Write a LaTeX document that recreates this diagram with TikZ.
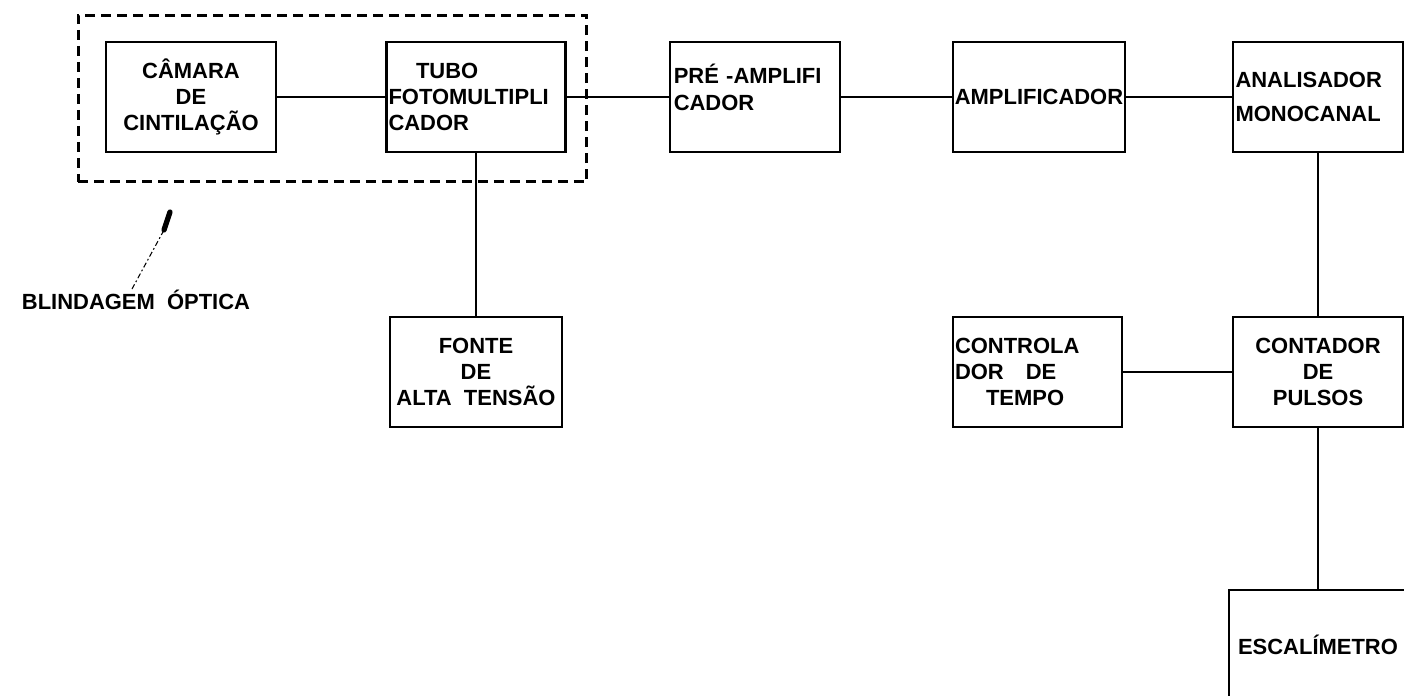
\documentclass[tikz,border=0pt]{standalone}
\usepackage{fontspec}
\setmainfont{Liberation Sans}
\usepackage{tikz}
\usetikzlibrary{positioning, calc}
\tikzset{
  bloco/.style={rectangle, draw=black, line width=1.6pt, minimum width=3.4cm, minimum height=2.2cm, inner sep=1pt, font=\fontsize{12.5}{15}\selectfont\bfseries},
  blind/.style={rectangle, draw=black, line width=1.7pt, dash pattern=on 0.2cm off 0.12cm},
  conexao/.style={line width=1.1pt},
  guia/.style={line width=0.6pt, dash pattern=on 3pt off 1.5pt on 1pt off 1.5pt}
}

\begin{document}
\begin{tikzpicture}[x=0.02cm, y=-0.02cm]

    \useasboundingbox (0,0) rectangle (1404,696);

    % 1. Blindagem optica (caixa tracejada)
    \node[blind, minimum width=10.18cm, minimum height=3.34cm] (blind) at (332.5,98.5) {};

    % 2. Blocos da linha superior
    \node[bloco, align=center] (camara) at (191,97) {CÂMARA\\DE\\CINTILAÇÃO};
    \node[bloco, minimum width=3.58cm, text width=3.5cm, align=left] (tubo) at (476,97) {\hspace*{0.55cm}TUBO\\FOTOMULTIPLI\\CADOR};
    \node[bloco, text width=3.25cm, align=left] (pre) at (755,97) {PRÉ -AMPLIFI\\CADOR\\[-0.14cm]\mbox{}};
    \node[bloco, minimum width=3.44cm] (amp) at (1039,97) {AMPLIFICADOR};
    \node[bloco, text width=3.3cm, align=left] (anal) at (1318,97) {ANALISADOR\\[0.15cm]MONOCANAL};

    % 3. Blocos da linha do meio
    \node[bloco, minimum width=3.44cm, align=center] (fonte) at (476,372) {FONTE\\DE\\ALTA\ \ TENSÃO};
    \node[bloco, minimum width=3.38cm, text width=3.3cm, align=left] (contr) at (1037.5,372) {CONTROLA\\DOR\quad DE\\\hspace*{0.62cm}TEMPO};
    \node[bloco, align=center] (cont) at (1318,372) {CONTADOR\\DE\\PULSOS};

    % 4. Bloco inferior
    \node[bloco, minimum width=3.56cm] (escal) at (1318,645) {ESCALÍMETRO};

    % 5. Ligacoes
    \draw[conexao] (camara) -- (tubo);
    \draw[conexao] (tubo) -- (pre);
    \draw[conexao] (pre) -- (amp);
    \draw[conexao] (amp) -- (anal);
    \draw[conexao] (tubo) -- (fonte);
    \draw[conexao] (anal) -- (cont);
    \draw[conexao] (contr) -- (cont);
    \draw[conexao] (cont) -- (escal);

    % 6. Rotulo da blindagem com seta
    \node[font=\fontsize{12.5}{15}\selectfont\bfseries] (rotulo) at (136,300) {BLINDAGEM\ \ ÓPTICA};
    \coordinate (ponta) at (170,212);
    \coordinate (meio) at (164,230);
    \draw[guia] (132,289) -- (meio);
    \draw[line width=3pt, line cap=round] (meio) -- (ponta);

\end{tikzpicture}
\end{document}
